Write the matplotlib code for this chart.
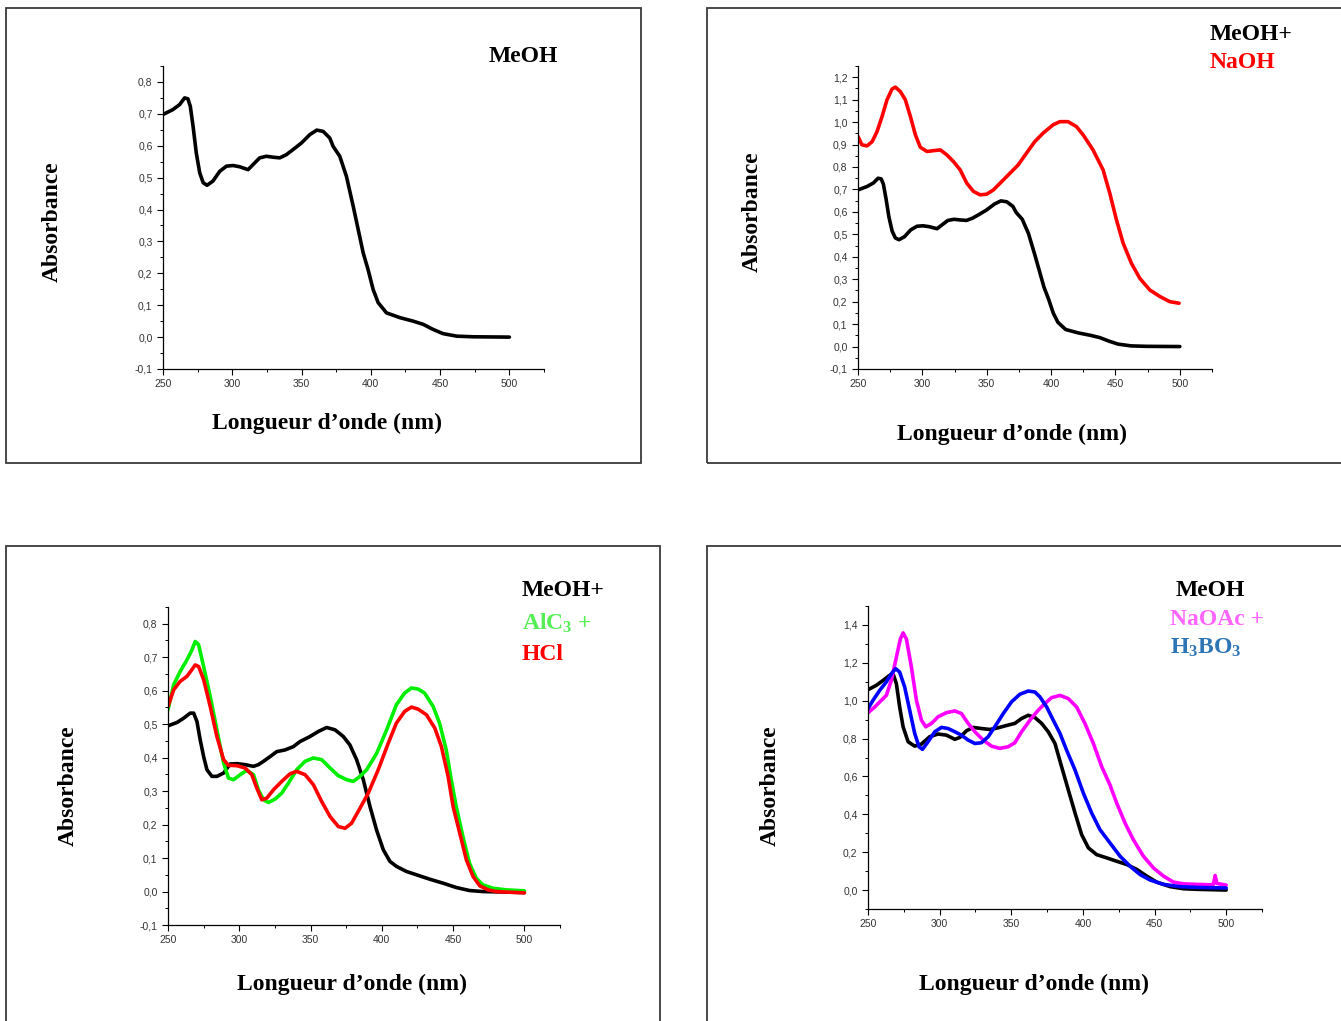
import numpy as np
import matplotlib
matplotlib.use('Agg')
import matplotlib.pyplot as plt
from matplotlib.patches import Rectangle
from matplotlib.ticker import MultipleLocator, FuncFormatter

plt.rcParams['font.family'] = ['Liberation Serif', 'DejaVu Serif']
plt.rcParams['mathtext.fontset'] = 'custom'
plt.rcParams['mathtext.rm'] = 'Liberation Serif:bold'
plt.rcParams['mathtext.bf'] = 'Liberation Serif:bold'
plt.rcParams['mathtext.default'] = 'rm'
plt.rcParams['lines.solid_joinstyle'] = 'round'
plt.rcParams['lines.solid_capstyle'] = 'round'

# MeOH spectrum (panels 1 and 2)
meoh_x = [250, 257, 262, 265.6, 268, 269.7, 271.7, 274, 276.5, 279, 281.8, 286, 291, 295.8,
          300.6, 305.4, 311.4, 315, 319.8, 324.6, 329.5, 334.3, 339, 343.9, 350, 356, 361,
          365.6, 370.4, 372.8, 377.6, 382.4, 387.3, 390.9, 394.5, 398, 401.7, 405.3, 411.3,
          421, 430.6, 437.8, 445, 452, 462, 474, 500]
meoh_y = [0.698, 0.713, 0.729, 0.75, 0.747, 0.724, 0.661, 0.578, 0.515, 0.484, 0.476, 0.489,
          0.52, 0.536, 0.538, 0.534, 0.525, 0.541, 0.562, 0.567, 0.564, 0.562, 0.572, 0.588,
          0.609, 0.635, 0.649, 0.645, 0.624, 0.598, 0.567, 0.504, 0.41, 0.337, 0.264, 0.212,
          0.149, 0.108, 0.076, 0.061, 0.05, 0.04, 0.024, 0.011, 0.003, 0.001, 0.0]

# MeOH + NaOH
naoh_x = [250, 253, 257, 261, 264.8, 268.7, 272.5, 276.4, 279, 282.9, 286.8, 290.7, 294.6,
          298.4, 303.6, 308.8, 314, 319, 324.2, 329.4, 334.5, 339.7, 344.9, 350, 355.2,
          361.6, 368, 374.4, 380.8, 387.3, 393.8, 401.6, 406.8, 413.2, 419.7, 424.9, 432.6,
          440.4, 445.6, 450.8, 456, 462.4, 468.9, 476.7, 484.5, 492.2, 499.4]
naoh_y = [0.936, 0.899, 0.894, 0.913, 0.958, 1.025, 1.099, 1.147, 1.156, 1.136, 1.099, 1.025,
          0.943, 0.888, 0.869, 0.873, 0.876, 0.854, 0.824, 0.787, 0.728, 0.691, 0.676, 0.679,
          0.698, 0.735, 0.772, 0.809, 0.861, 0.913, 0.951, 0.988, 1.002, 1.002, 0.98, 0.943,
          0.876, 0.787, 0.683, 0.564, 0.46, 0.371, 0.304, 0.252, 0.223, 0.2, 0.193]

# panel 3: MeOH, AlCl3, AlCl3 + HCl
meoh3_x = [250, 256.3, 261, 265.6, 268, 270.3, 272.6, 275, 277.3, 280.8, 284.3, 289, 293.6,
           298.3, 304.1, 310, 313.4, 317, 321.6, 326.3, 332.1, 338, 342.6, 349.6, 355.4,
           361.3, 367.2, 373, 377.6, 382.3, 387, 391.7, 396.3, 401, 405.7, 410.3, 417.2,
           424.3, 433.5, 442.9, 452.2, 461.5, 470.8, 480, 500]
meoh3_y = [0.495, 0.505, 0.518, 0.533, 0.533, 0.508, 0.453, 0.403, 0.364, 0.344, 0.344, 0.354,
           0.381, 0.382, 0.379, 0.374, 0.379, 0.389, 0.403, 0.418, 0.423, 0.433, 0.448, 0.463,
           0.478, 0.49, 0.483, 0.463, 0.438, 0.394, 0.334, 0.254, 0.184, 0.125, 0.09, 0.075,
           0.06, 0.05, 0.037, 0.025, 0.012, 0.003, 0.0, -0.001, -0.003]
alcl3_x = [250, 254, 258.6, 263.3, 266.8, 269.1, 271.5, 275, 279.6, 284.3, 289, 292.4, 296,
           300.6, 305.3, 310, 313.4, 317, 320.5, 325.1, 329.8, 334.5, 340.3, 346.2, 352,
           357.8, 363.7, 369.5, 375.4, 380, 384.7, 389.4, 396.4, 403.4, 410.2, 416, 420.8,
           425.4, 430, 436, 440.5, 445.2, 448.7, 452.2, 456.9, 461.5, 466.2, 470.8, 477.8,
           487.1, 500]
alcl3_y = [0.543, 0.618, 0.658, 0.692, 0.722, 0.747, 0.737, 0.672, 0.583, 0.483, 0.384, 0.339,
           0.334, 0.349, 0.362, 0.349, 0.304, 0.274, 0.266, 0.276, 0.294, 0.324, 0.364, 0.389,
           0.399, 0.394, 0.369, 0.346, 0.334, 0.329, 0.344, 0.364, 0.413, 0.483, 0.558, 0.593,
           0.608, 0.605, 0.593, 0.553, 0.503, 0.423, 0.334, 0.254, 0.164, 0.085, 0.04, 0.02,
           0.01, 0.005, 0.002]
hcl_x = [250, 254, 258.6, 263.3, 266.8, 269.1, 271.5, 275, 279.6, 284.3, 289, 292.4, 298.3,
         304.1, 308.8, 312.3, 315.8, 319.3, 324, 329.8, 335.7, 340.3, 346.2, 352, 357.8,
         363.7, 369.5, 374.2, 378.8, 384.7, 390.5, 397.5, 404.5, 410.2, 416, 420.8, 425.4,
         431.3, 437.2, 441.8, 446.5, 450, 454.7, 459.3, 464, 468.7, 474.5, 480.2, 489.5, 500]
hcl_y = [0.553, 0.603, 0.628, 0.643, 0.663, 0.677, 0.672, 0.633, 0.553, 0.463, 0.394, 0.377,
         0.376, 0.369, 0.349, 0.309, 0.274, 0.279, 0.304, 0.329, 0.352, 0.359, 0.349, 0.319,
         0.269, 0.224, 0.194, 0.189, 0.204, 0.249, 0.294, 0.364, 0.443, 0.503, 0.538, 0.551,
         0.545, 0.528, 0.488, 0.433, 0.344, 0.254, 0.174, 0.095, 0.045, 0.017, 0.005, 0.0,
         -0.002, -0.004]

# panel 4: MeOH, NaOAc, NaOAc + H3BO3
meoh4_x = [250, 255.8, 260.5, 265.1, 267.5, 269.8, 272.1, 274.5, 278, 282.6, 287.3, 293.1,
           298.9, 304.8, 310.6, 314.1, 318.7, 323.4, 329.2, 335, 340.9, 346.7, 352.5, 357.2,
           361.8, 366.5, 371.2, 375.8, 380.5, 385.1, 389.8, 394.5, 399.1, 403.8, 409.6,
           416.6, 423.6, 430.6, 437.6, 444.5, 451.5, 460.9, 470.2, 479.5, 500]
meoh4_y = [1.058, 1.081, 1.107, 1.134, 1.142, 1.09, 0.967, 0.862, 0.783, 0.76, 0.771, 0.81,
           0.824, 0.818, 0.796, 0.806, 0.841, 0.859, 0.853, 0.848, 0.857, 0.869, 0.88, 0.906,
           0.923, 0.911, 0.88, 0.836, 0.774, 0.652, 0.529, 0.407, 0.293, 0.223, 0.187, 0.17,
           0.152, 0.135, 0.109, 0.074, 0.042, 0.018, 0.007, 0.004, 0.0]
h3bo3_x = [250, 253.5, 258.2, 262.8, 266.3, 269.3, 272.1, 275.6, 279.1, 282.6, 285.6, 288,
           291.9, 296.6, 301.3, 305.9, 310.6, 315.2, 319.9, 324.6, 329.2, 333.9, 338.5, 344.4,
           350.2, 356, 361.8, 366.5, 370, 374.7, 379.3, 384, 388.6, 394.5, 400.3, 406.1,
           411.9, 418.9, 425.9, 432.9, 439.9, 446.9, 456.2, 467.8, 479.5, 500]
h3bo3_y = [0.958, 1.002, 1.055, 1.099, 1.142, 1.169, 1.151, 1.072, 0.95, 0.827, 0.757, 0.743,
           0.783, 0.836, 0.859, 0.853, 0.836, 0.818, 0.792, 0.774, 0.778, 0.81, 0.862, 0.932,
           0.994, 1.034, 1.051, 1.046, 1.02, 0.967, 0.897, 0.827, 0.739, 0.634, 0.512, 0.407,
           0.319, 0.249, 0.179, 0.126, 0.082, 0.053, 0.03, 0.018, 0.014, 0.011]
naoac_x = [250, 254.7, 259.3, 262.8, 266.3, 269.8, 272.6, 274.5, 276.8, 280.3, 283.8, 287.3,
           290.3, 294.3, 298.9, 304.8, 310.6, 315.2, 319.9, 324.6, 330.4, 336.2, 342, 347.9,
           352.5, 357.2, 363, 368.8, 373.5, 378.1, 384, 389.8, 395.6, 401.4, 407.3, 413.1,
           418.9, 423.6, 429.4, 435.2, 442.2, 449.2, 456.2, 463.2, 470.2, 479.5, 488.8,
           491.1, 492.3, 493.5, 500]
naoac_y = [0.936, 0.967, 1.002, 1.028, 1.107, 1.23, 1.326, 1.358, 1.326, 1.177, 1.002, 0.897,
           0.862, 0.88, 0.915, 0.937, 0.946, 0.932, 0.88, 0.836, 0.792, 0.76, 0.748, 0.757,
           0.778, 0.836, 0.897, 0.95, 0.985, 1.016, 1.028, 1.011, 0.967, 0.88, 0.774, 0.652,
           0.555, 0.459, 0.354, 0.266, 0.179, 0.117, 0.074, 0.042, 0.033, 0.03, 0.028, 0.03,
           0.077, 0.035, 0.026]

W, H = 1341, 1021
fig = plt.figure(figsize=(13.41, 10.21), dpi=100)


def px(x, y):
    # figure pixel position -> figure fraction
    return x / W, 1 - y / H


def comma(v, pos):
    return ('%.1f' % v).replace('.', ',')


def make_axes(left, top, right, bottom, ymin, ymax, ymajor, yticks=None):
    x0, y1 = px(left, top)
    x1, y0 = px(right, bottom)
    ax = fig.add_axes([x0, y0, x1 - x0, y1 - y0])
    ax.set_xlim(250, 525)
    ax.set_ylim(ymin, ymax)
    ax.spines['top'].set_visible(False)
    ax.spines['right'].set_visible(False)
    for s in ('left', 'bottom'):
        ax.spines[s].set_linewidth(0.9)
    ax.set_xticks([250, 300, 350, 400, 450, 500])
    ax.xaxis.set_minor_locator(MultipleLocator(25))
    if yticks is not None:
        ax.set_yticks(yticks)
    else:
        ax.yaxis.set_major_locator(MultipleLocator(ymajor))
    ax.yaxis.set_minor_locator(MultipleLocator(ymajor / 2))
    ax.yaxis.set_major_formatter(FuncFormatter(comma))
    ax.tick_params(which='major', direction='out', length=4, width=0.8,
                   labelsize=7.5, labelcolor='#333333')
    ax.tick_params(which='minor', direction='out', length=2, width=0.7)
    for lab in ax.get_xticklabels() + ax.get_yticklabels():
        lab.set_family('Liberation Sans')
    ax.patch.set_alpha(0)
    return ax


def label_text(x, y, s, **kw):
    fx, fy = px(x, y)
    fig.text(fx, fy, s, fontsize=17, fontweight='bold', **kw)


# frames around each panel
frames = [(6, 8, 641, 463), (707, 8, 1360, 463), (6, 546, 660, 1040), (707, 546, 1360, 1040)]
for l, t, r, b in frames:
    x0, y1 = px(l, t)
    x1, y0 = px(r, b)
    fig.patches.append(Rectangle((x0, y0), x1 - x0, y1 - y0, transform=fig.transFigure,
                                 fill=False, edgecolor='#3a3a3a', lw=1.3))

lw = 2.6

# panel 1
ax1 = make_axes(163, 66, 544, 369, -0.1, 0.85, 0.1)
ax1.plot(meoh_x, meoh_y, color='black', lw=lw)
label_text(489, 57, 'MeOH', ha='left', va='center')
label_text(52, 222, 'Absorbance', rotation=90, ha='center', va='center')
label_text(327, 423, 'Longueur d\u2019onde (nm)', ha='center', va='center')

# panel 2
ax2 = make_axes(858, 66, 1212, 369, -0.1, 1.25, 0.1)
ax2.plot(meoh_x, meoh_y, color='black', lw=lw)
ax2.plot(naoh_x, naoh_y, color='#ff0000', lw=lw)
label_text(1210, 34, 'MeOH+', ha='left', va='center')
label_text(1210, 63, 'NaOH', ha='left', va='center', color='#ff0000')
label_text(752, 212, 'Absorbance', rotation=90, ha='center', va='center')
label_text(1012, 434, 'Longueur d\u2019onde (nm)', ha='center', va='center')

# panel 3
ax3 = make_axes(168, 607, 560, 925, -0.1, 0.85, 0.1)
ax3.plot(meoh3_x, meoh3_y, color='black', lw=lw)
ax3.plot(alcl3_x, alcl3_y, color='#00ee00', lw=lw)
ax3.plot(hcl_x, hcl_y, color='#ff0000', lw=lw)
label_text(522, 590, 'MeOH+', ha='left', va='center')
label_text(522, 623, r'AlC$_3$ +', ha='left', va='center', color='#55ee55')
label_text(522, 654, 'HCl', ha='left', va='center', color='#ff0000')
label_text(68, 786, 'Absorbance', rotation=90, ha='center', va='center')
label_text(352, 984, 'Longueur d\u2019onde (nm)', ha='center', va='center')

# panel 4
ax4 = make_axes(868, 606, 1262, 909, -0.1, 1.5, 0.2, yticks=np.arange(0, 1.41, 0.2))
ax4.plot(meoh4_x, meoh4_y, color='black', lw=lw)
ax4.plot(naoac_x, naoac_y, color='#ff00ff', lw=lw)
ax4.plot(h3bo3_x, h3bo3_y, color='#0000ff', lw=lw)
label_text(1176, 590, 'MeOH', ha='left', va='center')
label_text(1170, 619, 'NaOAc +', ha='left', va='center', color='#ff66ff')
label_text(1170, 648, r'H$_3$BO$_3$', ha='left', va='center', color='#2e75b6')
label_text(770, 786, 'Absorbance', rotation=90, ha='center', va='center')
label_text(1034, 984, 'Longueur d\u2019onde (nm)', ha='center', va='center')

fig.savefig('out.png', dpi=100, facecolor='white')
